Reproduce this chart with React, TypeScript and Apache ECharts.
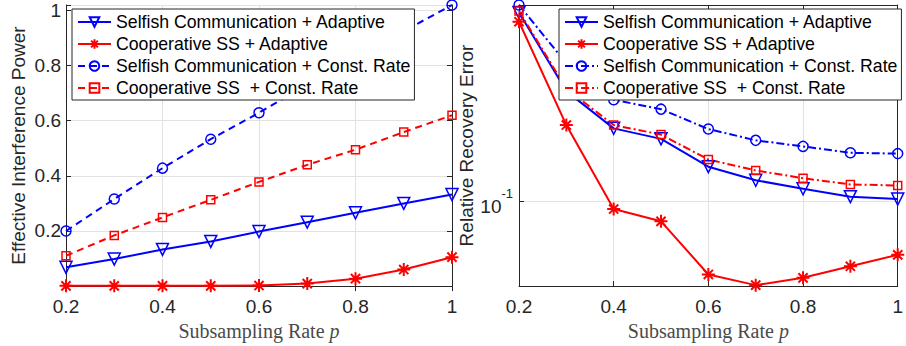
import React, { useEffect, useRef } from 'react';
import * as echarts from 'echarts';

// ---------- data ----------
const P = [0.2, 0.3, 0.4, 0.5, 0.6, 0.7, 0.8, 0.9, 1.0];
const xTicks = [0.2, 0.4, 0.6, 0.8, 1];
const leftYTicks = [0.2, 0.4, 0.6, 0.8, 1];

const seriesNames = [
  'Selfish Communication + Adaptive',
  'Cooperative SS + Adaptive',
  'Selfish Communication + Const. Rate',
  'Cooperative SS  + Const. Rate',
];

// Left: Effective Interference Power
const selfishAdaptiveEIP = [0.068, 0.098, 0.133, 0.162, 0.198, 0.232, 0.266, 0.3, 0.332];
const coopAdaptiveEIP = [0.001, 0.001, 0.001, 0.001, 0.002, 0.009, 0.027, 0.06, 0.105];
const selfishConstEIP = [0.2, 0.316, 0.428, 0.533, 0.629, 0.73, 0.83, 0.925, 1.02];
const coopConstEIP = [0.11, 0.184, 0.249, 0.313, 0.378, 0.44, 0.495, 0.559, 0.62];

// Right: Relative Recovery Error (log)
const selfishAdaptiveRRE = [0.47, 0.247, 0.182, 0.167, 0.133, 0.119, 0.111, 0.104, 0.102];
const coopAdaptiveRRE = [0.436, 0.187, 0.094, 0.085, 0.055, 0.0504, 0.0535, 0.0588, 0.0646];
const selfishConstRRE = [0.5, 0.31, 0.23, 0.213, 0.181, 0.165, 0.157, 0.149, 0.148];
const coopConstRRE = [0.476, 0.252, 0.187, 0.173, 0.141, 0.129, 0.121, 0.115, 0.114];

// ---------- styles ----------
const BLUE = '#0000ff';
const RED = '#ff0000';
const AX = '#262626';
const GRIDC = '#e2e2e2';
const FONT = '"Liberation Sans", Arial, Helvetica, sans-serif';
const SERIF = '"Liberation Serif", "Times New Roman", serif';
const STAR = 'path://M5,0L5,10M0,5L10,5M1.46,1.46L8.54,8.54M1.46,8.54L8.54,1.46';

const pairs = (ys: number[]) => P.map((p, i) => [p, ys[i]]);

function line(
  name: string,
  ys: number[],
  idx: number,
  color: string,
  dash: any,
  symbol: string,
  size: number,
  rotate = 0,
  bw = 1.5
) {
  return {
    type: 'line',
    name,
    xAxisIndex: idx,
    yAxisIndex: idx,
    data: pairs(ys),
    symbol,
    symbolSize: size,
    symbolRotate: rotate,
    showAllSymbol: true,
    lineStyle: { color, width: 2, type: dash },
    itemStyle: { color: 'rgba(255,255,255,0)', borderColor: color, borderWidth: bw },
    emphasis: { disabled: true },
    z: 3,
  };
}

function xAxes(grid: number) {
  return [
    {
      gridIndex: grid,
      type: 'value',
      min: 0.2,
      max: 1,
      interval: 0.2,
      position: 'bottom',
      axisLine: { show: true, lineStyle: { color: AX, width: 1 } },
      axisTick: { show: true, inside: true, length: 5, lineStyle: { color: AX } },
      axisLabel: {
        fontSize: 19,
        color: AX,
        fontFamily: FONT,
        margin: 11,
        formatter: (v: number) =>
          xTicks.some((t) => Math.abs(t - v) < 1e-6) ? String(+v.toFixed(1)) : '',
      },
      splitLine: { show: true, lineStyle: { color: GRIDC, width: 1 } },
      name: '{a|Subsampling Rate }{i|p}',
      nameLocation: 'middle',
      nameGap: 30,
      nameTextStyle: {
        rich: {
          a: { fontFamily: SERIF, fontSize: 20, color: '#4a4a4a' },
          i: { fontFamily: SERIF, fontSize: 20, fontStyle: 'italic', color: '#4a4a4a' },
        },
      },
    },
    {
      gridIndex: grid,
      type: 'value',
      min: 0.2,
      max: 1,
      interval: 0.2,
      position: 'top',
      axisLine: { show: true, lineStyle: { color: AX, width: 1 } },
      axisTick: { show: true, inside: true, length: 5, lineStyle: { color: AX } },
      axisLabel: { show: false },
      splitLine: { show: false },
    },
  ];
}

export default function App() {
  const ref = useRef<HTMLDivElement>(null);

  useEffect(() => {
    if (!ref.current) return;
    const chart = echarts.init(ref.current, undefined, { renderer: 'svg' });

    const leftY = {
      gridIndex: 0,
      type: 'value',
      min: 0,
      max: 1.02,
      interval: 0.2,
      position: 'left',
      axisLine: { show: true, lineStyle: { color: AX, width: 1 } },
      axisTick: { show: true, inside: true, length: 5, lineStyle: { color: AX } },
      axisLabel: {
        fontSize: 19,
        color: AX,
        fontFamily: FONT,
        margin: 5,
        formatter: (v: number) => {
          const ok = leftYTicks.some((t) => Math.abs(t - v) < 1e-6);
          return ok ? String(+v.toFixed(1)) : '';
        },
      },
      splitLine: { show: true, lineStyle: { color: GRIDC, width: 1 } },
      name: 'Effective Interference Power',
      nameLocation: 'middle',
      nameGap: 38,
      nameTextStyle: { fontFamily: FONT, fontSize: 19, color: AX },
    };
    const leftY2 = {
      gridIndex: 0,
      type: 'value',
      min: 0,
      max: 1.02,
      interval: 0.2,
      position: 'right',
      axisLine: { show: true, lineStyle: { color: AX, width: 1 } },
      axisTick: { show: true, inside: true, length: 5, lineStyle: { color: AX } },
      axisLabel: { show: false },
      splitLine: { show: false },
    };
    const rightY = {
      gridIndex: 1,
      type: 'log',
      logBase: 10,
      min: 0.05,
      max: 0.5,
      position: 'left',
      axisLine: { show: true, lineStyle: { color: AX, width: 1 } },
      axisTick: { show: true, inside: true, length: 5, lineStyle: { color: AX } },
      axisLabel: {
        color: AX,
        fontFamily: FONT,
        margin: 6,
        formatter: (v: number) => (Math.abs(v - 0.1) < 1e-9 ? '{b|10}{s|-1}' : ''),
        rich: {
          b: { fontSize: 19, fontFamily: FONT, color: AX, padding: [10, 0, 0, 0] },
          s: { fontSize: 13, fontFamily: FONT, color: AX, verticalAlign: 'top' },
        },
      },
      splitLine: { show: true, lineStyle: { color: GRIDC, width: 1 } },
      name: 'Relative Recovery Error',
      nameLocation: 'middle',
      nameGap: 39,
      nameTextStyle: { fontFamily: FONT, fontSize: 19, color: AX },
    };
    const rightY2 = {
      gridIndex: 1,
      type: 'log',
      logBase: 10,
      min: 0.05,
      max: 0.5,
      position: 'right',
      axisLine: { show: true, lineStyle: { color: AX, width: 1 } },
      axisTick: { show: false },
      axisLabel: { show: false },
      splitLine: { show: false },
    };

    const DASH = [7, 5];
    const DASHDOT = [8, 3, 2, 3];
    const rn = seriesNames.map((n) => 'R:' + n);

    const legendCommon = {
      orient: 'vertical',
      top: 9,
      itemWidth: 33,
      itemHeight: 12,
      itemGap: 4,
      padding: [4, 4, 3, 5],
      borderColor: AX,
      borderWidth: 1,
      backgroundColor: '#ffffff',
      selectedMode: false,
      textStyle: { fontFamily: FONT, fontSize: 17.7, color: '#000', lineHeight: 18 },
      z: 10,
    };

    chart.setOption({
      animation: false,
      backgroundColor: '#ffffff',
      grid: [
        { left: 66, top: 5, width: 386, height: 282, containLabel: false },
        { left: 519, top: 5, width: 386, height: 282, containLabel: false },
      ],
      xAxis: [...xAxes(0), ...xAxes(1)],
      yAxis: [leftY, leftY2, rightY, rightY2],
      legend: [
        { ...legendCommon, left: 72, data: seriesNames },
        {
          ...legendCommon,
          left: 559,
          data: rn,
          formatter: (n: string) => n.replace(/^R:/, ''),
        },
      ],
      series: [
        line(seriesNames[0], selfishAdaptiveEIP, 0, BLUE, 'solid', 'triangle', 12, 180),
        line(seriesNames[1], coopAdaptiveEIP, 0, RED, 'solid', STAR, 13, 0, 2),
        line(seriesNames[2], selfishConstEIP, 0, BLUE, DASH, 'circle', 10),
        line(seriesNames[3], coopConstEIP, 0, RED, DASH, 'rect', 8),
        { ...line(rn[0], selfishAdaptiveRRE, 2, BLUE, 'solid', 'triangle', 12, 180), xAxisIndex: 2, yAxisIndex: 2 },
        { ...line(rn[1], coopAdaptiveRRE, 2, RED, 'solid', STAR, 13, 0, 2), xAxisIndex: 2, yAxisIndex: 2 },
        { ...line(rn[2], selfishConstRRE, 2, BLUE, DASHDOT, 'circle', 10), xAxisIndex: 2, yAxisIndex: 2 },
        { ...line(rn[3], coopConstRRE, 2, RED, DASHDOT, 'rect', 8), xAxisIndex: 2, yAxisIndex: 2 },
      ],
    });

    return () => chart.dispose();
  }, []);

  return (
    <div
      ref={ref}
      style={{ position: 'fixed', left: 0, top: 0, width: 906, height: 346, background: '#fff' }}
    />
  );
}
